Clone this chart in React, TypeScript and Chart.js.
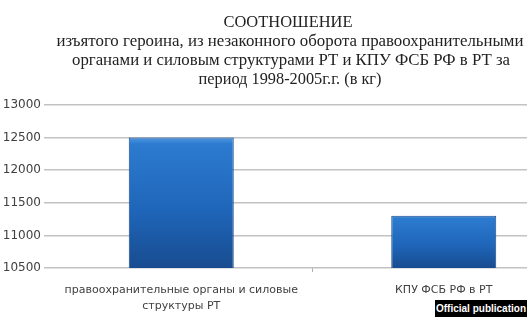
import React, { useEffect, useRef } from "react";
import { Chart, registerables } from "chart.js";

Chart.register(...registerables);

const categories: string[][] = [
  ["правоохранительные органы и силовые", "структуры РТ"],
  ["КПУ ФСБ РФ в РТ"],
];
const values: number[] = [12500, 11300];
const yMin = 10500;
const yMax = 13000;
const yStep = 500;
const titleLines: string[] = [
  "СООТНОШЕНИЕ",
  "изъятого героина, из незаконного оборота правоохранительными",
  "органами и силовым структурами РТ и КПУ ФСБ РФ в РТ за",
  "период 1998-2005г.г. (в кг)",
];
const badgeText = "Official publication";

// title layout: [centerX, baselineY, width]
const titleLayout: [number, number, number][] = [
  [288, 27, 129],
  [290, 46, 467],
  [291, 65, 438],
  [290, 84, 183],
];

const titlePlugin = {
  id: "customTitle",
  afterDraw(chart: any) {
    const ctx = chart.ctx;
    ctx.save();
    ctx.fillStyle = "#222222";
    ctx.textBaseline = "alphabetic";
    ctx.textAlign = "left";
    titleLines.forEach((line, i) => {
      const [cx, y, w] = titleLayout[i];
      ctx.font = "17px 'Liberation Serif', serif";
      const m = ctx.measureText(line).width;
      const sx = w / m;
      ctx.save();
      ctx.translate(cx - w / 2, y);
      ctx.scale(sx, 1);
      ctx.fillText(line, 0, 0);
      ctx.restore();
    });
    ctx.restore();
  },
};

export default function App() {
  const ref = useRef<HTMLCanvasElement | null>(null);
  useEffect(() => {
    if (!ref.current) return;
    const chart = new Chart(ref.current, {
      type: "bar",
      data: {
        labels: categories,
        datasets: [
          {
            data: values,
            backgroundColor: (c: any) => {
              const ch = c.chart;
              const area = ch.chartArea;
              if (!area || !c.parsed) return "#2068bd";
              const top = ch.scales.y.getPixelForValue(c.parsed.y);
              const g = ch.ctx.createLinearGradient(0, top, 0, area.bottom);
              g.addColorStop(0, "#4e96e0");
              g.addColorStop(0.05, "#2c7bd0");
              g.addColorStop(0.55, "#1f66ba");
              g.addColorStop(1, "#184c90");
              return g;
            },
            borderColor: "#1a4886",
            borderWidth: 1,
            barPercentage: 0.4,
            categoryPercentage: 1,
          },
        ],
      },
      options: {
        responsive: false,
        animation: false,
        layout: { padding: { top: 105, right: 5, left: 0, bottom: 0 } },
        plugins: {
          legend: { display: false },
          tooltip: { enabled: false },
          title: { display: false },
        },
        scales: {
          x: {
            offset: true,
            grid: {
              display: true,
              drawOnChartArea: false,
              drawTicks: true,
              tickLength: 4,
              color: (c: any) => (c.index === 1 ? "#b0b0b0" : "rgba(0,0,0,0)"),
              offset: true,
            },
            border: { display: false },
            ticks: {
              color: "#404040",
              font: { family: "'DejaVu Sans', sans-serif", size: 11, lineHeight: 1.45 },
              padding: 10,
              maxRotation: 0,
              autoSkip: false,
            },
            afterFit: (s: any) => {
              s.height = 49;
            },
          },
          y: {
            min: yMin,
            max: yMax,
            ticks: {
              stepSize: yStep,
              color: "#404040",
              font: { family: "'DejaVu Sans', sans-serif", size: 12 },
              padding: 3,
              callback: (v: any) => String(v),
            },
            grid: {
              color: "#c2c2c2",
              lineWidth: 1.5,
              tickLength: 6,
            },
            border: { display: false },
            afterFit: (s: any) => {
              s.width = 50;
            },
          },
        },
      },
      plugins: [titlePlugin],
    });
    return () => chart.destroy();
  }, []);

  return (
    <div
      style={{
        position: "absolute",
        left: 0,
        top: 0,
        width: 527,
        height: 317,
        overflow: "hidden",
        background: "#ffffff",
      }}
    >
      <canvas ref={ref} width={580} height={317} style={{ width: 580, height: 317, display: "block" }} />
      <div
        style={{
          position: "absolute",
          left: 435,
          top: 300,
          width: 92,
          height: 17,
          background: "#000000",
          color: "#ffffff",
          font: "bold 10px 'Liberation Sans', Arial, sans-serif",
          lineHeight: "17px",
          textAlign: "center",
          whiteSpace: "nowrap",
          overflow: "hidden",
        }}
      >
        {badgeText}
      </div>
    </div>
  );
}
